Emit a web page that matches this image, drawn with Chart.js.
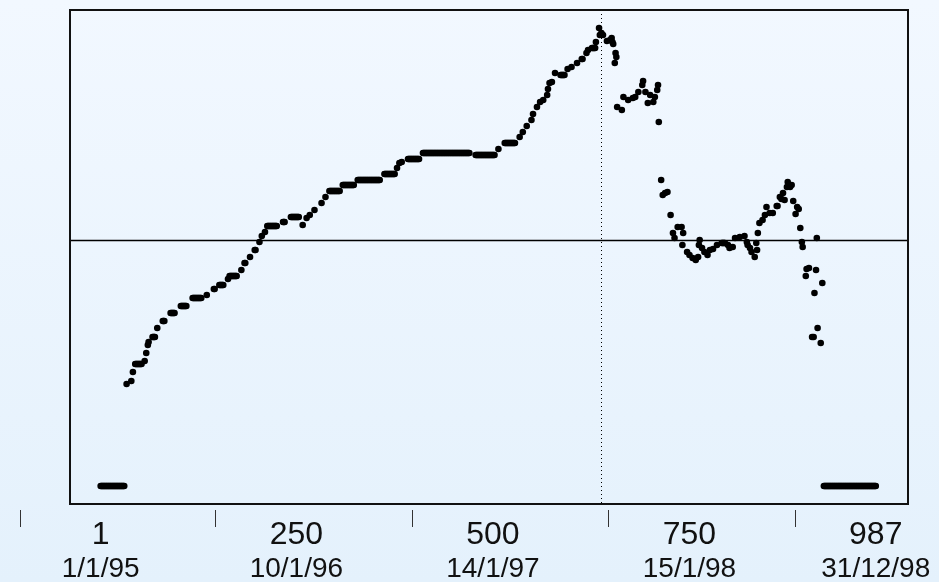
<!DOCTYPE html>
<html>
<head>
<meta charset="utf-8">
<script src="https://cdn.jsdelivr.net/npm/chart.js@4/dist/chart.umd.min.js"></script>
<style>
  html, body { margin: 0; padding: 0; background: #eaf4fd; }
  #wrap { width: 939px; height: 582px; }
</style>
</head>
<body>
<div id="wrap"><canvas id="chart" width="939" height="582"></canvas></div>
<script>
// Runs of days with a constant level (single dots have dayFrom == dayTo)
const dayFrom = [1, 34, 40, 42, 45, 57, 59, 61, 62, 67, 73, 80, 90, 103, 118, 136, 145, 152, 163, 165,
  180, 184, 191, 197, 203, 206, 210, 213, 233, 243, 258, 263, 267, 273, 282, 287, 292, 309, 328, 362,
  378, 381, 384, 392, 411, 478, 507, 515, 534, 538, 543, 549, 551, 556, 560, 564, 569, 570, 572, 575,
  579, 586, 595, 600, 607, 613, 619, 621, 626, 631, 636, 635, 638, 640, 645, 649, 652, 651, 653, 656,
  657, 655, 658, 664, 666, 672, 678, 681, 685, 690, 691, 694, 697, 700, 704, 706, 709, 710, 711, 714,
  716, 719, 722, 726, 729, 731, 735, 740, 742, 741, 747, 750, 754, 758, 763, 762, 766, 761, 769, 773,
  776, 780, 785, 791, 799, 801, 805, 808, 814, 820, 823, 824, 827, 829, 833, 836, 835, 837, 839, 843,
  846, 848, 852, 856, 861, 865, 867, 869, 874, 875, 878, 880, 871, 882, 887, 889, 885, 891, 893, 894,
  912, 899, 902, 911, 898, 919, 909, 913, 906, 908, 917, 921];
const dayTo = [31, 34, 40, 42, 53, 57, 59, 61, 62, 70, 73, 82, 95, 110, 129, 136, 146, 157, 163, 174,
  180, 185, 191, 198, 203, 206, 210, 225, 235, 253, 258, 263, 267, 273, 282, 287, 305, 323, 356, 375,
  378, 381, 384, 406, 470, 502, 507, 528, 534, 538, 543, 549, 551, 556, 560, 564, 569, 570, 572, 575,
  579, 591, 595, 600, 607, 614, 619, 621, 630, 631, 636, 635, 638, 640, 645, 649, 652, 651, 653, 656,
  657, 655, 658, 664, 666, 672, 678, 681, 685, 690, 691, 694, 697, 700, 704, 706, 709, 710, 711, 714,
  716, 719, 722, 726, 729, 731, 735, 740, 742, 741, 747, 750, 754, 758, 763, 762, 766, 761, 769, 773,
  776, 780, 785, 795, 799, 801, 805, 808, 814, 820, 823, 824, 827, 829, 833, 836, 835, 837, 839, 843,
  846, 848, 852, 856, 862, 865, 867, 869, 874, 875, 878, 880, 871, 882, 887, 889, 885, 891, 893, 894,
  912, 899, 902, 911, 898, 919, 909, 913, 906, 908, 917, 987];
const level = [18, 120, 123, 132, 140, 143, 151, 159, 162, 167, 176, 183, 191, 198, 206, 209, 215, 219, 225, 228,
  234, 241, 247, 254, 262, 268, 272, 278, 282, 287, 279, 286, 289, 294, 301, 307, 313, 319, 324, 330,
  336, 341, 342, 345, 351, 349, 355, 361, 367, 372, 378, 384, 390, 397, 402, 404, 409, 415, 421, 422,
  431, 429, 435, 437, 441, 445, 451, 454, 456, 462, 469, 476, 471, 469, 463, 464, 462, 466, 460, 451,
  447, 441, 397, 394, 407, 404, 406, 407, 412, 419, 423, 412, 401, 409, 402, 407, 414, 419, 382, 324,
  309, 311, 312, 289, 271, 266, 277, 277, 271, 259, 252, 249, 246, 244, 264, 259, 256, 247, 252, 249,
  254, 255, 259, 261, 259, 256, 257, 266, 267, 268, 262, 259, 256, 252, 247, 254, 261, 271, 281, 284,
  289, 297, 291, 291, 298, 307, 305, 311, 317, 322, 317, 319, 304, 303, 297, 295, 290, 276, 262, 257,
  266, 235, 236, 234, 228, 221, 211, 176, 167, 167, 161, 18];

// Axis annotations
const tickValues = [1, 250, 500, 750, 987];
const tickDates = ['1/1/95', '10/1/96', '14/1/97', '15/1/98', '31/12/98'];
const tickMarks = [-102, 146, 397, 646, 884];
const refLevel = 264;   // horizontal reference line
const markDay = 637;    // dotted vertical line

// Expand runs into points
const points = [];
for (let k = 0; k < dayFrom.length; k++) {
    for (let d = dayFrom[k]; d <= dayTo[k]; d++) {
        points.push({ x: d, y: level[k] });
    }
}

// Background, frame, reference lines and bottom labels
const decorPlugin = {
    id: 'decor',
    beforeDraw(chart) {
        const ctx = chart.ctx;
        const g = ctx.createLinearGradient(0, 0, 0, chart.height);
        g.addColorStop(0, '#f2f8ff');
        g.addColorStop(1, '#e4f1fc');
        ctx.save();
        ctx.fillStyle = g;
        ctx.fillRect(0, 0, chart.width, chart.height);
        ctx.restore();
    },
    afterDatasetsDraw(chart) {
        const ctx = chart.ctx;
        const a = chart.chartArea;
        const xs = chart.scales.x;
        const ys = chart.scales.y;
        ctx.save();

        // horizontal reference line
        const yRef = Math.round(ys.getPixelForValue(refLevel)) + 0.5;
        ctx.strokeStyle = '#000';
        ctx.lineWidth = 1.4;
        ctx.beginPath();
        ctx.moveTo(a.left, yRef);
        ctx.lineTo(a.right, yRef);
        ctx.stroke();

        // dotted vertical line
        const xMark = Math.round(xs.getPixelForValue(markDay)) + 0.5;
        ctx.lineWidth = 1;
        ctx.setLineDash([1, 3]);
        ctx.beginPath();
        ctx.moveTo(xMark, a.top);
        ctx.lineTo(xMark, a.bottom);
        ctx.stroke();
        ctx.setLineDash([]);

        // frame
        ctx.lineWidth = 2;
        ctx.strokeStyle = '#111';
        ctx.strokeRect(a.left, a.top, a.right - a.left, a.bottom - a.top);

        // tick marks
        ctx.strokeStyle = '#333';
        ctx.lineWidth = 1;
        tickMarks.forEach(v => {
            const x = Math.round(xs.getPixelForValue(v)) + 0.5;
            ctx.beginPath();
            ctx.moveTo(x, a.bottom + 6);
            ctx.lineTo(x, a.bottom + 23);
            ctx.stroke();
        });

        // labels
        ctx.fillStyle = '#111';
        ctx.textAlign = 'center';
        ctx.textBaseline = 'alphabetic';
        tickValues.forEach((v, i) => {
            const x = xs.getPixelForValue(v);
            ctx.font = '32px "Liberation Sans", Arial, sans-serif';
            ctx.fillText(String(v), x, a.bottom + 40);
            ctx.font = '28px "Liberation Sans", Arial, sans-serif';
            ctx.fillText(tickDates[i], x, a.bottom + 73);
        });
        ctx.restore();
    }
};

const chart = new Chart(document.getElementById('chart').getContext('2d'), {
    type: 'scatter',
    data: {
        datasets: [{
            data: points,
            backgroundColor: '#000',
            borderWidth: 0,
            pointRadius: 3.3,
            pointHoverRadius: 3.3
        }]
    },
    options: {
        responsive: false,
        animation: false,
        events: [],
        layout: { padding: { left: 70, right: 31, top: 10, bottom: 78 } },
        scales: {
            x: { type: 'linear', min: -38, max: 1028, display: false },
            y: { type: 'linear', min: 0, max: 494, display: false }
        },
        plugins: {
            legend: { display: false },
            tooltip: { enabled: false }
        }
    },
    plugins: [decorPlugin]
});
</script>
</body>
</html>
